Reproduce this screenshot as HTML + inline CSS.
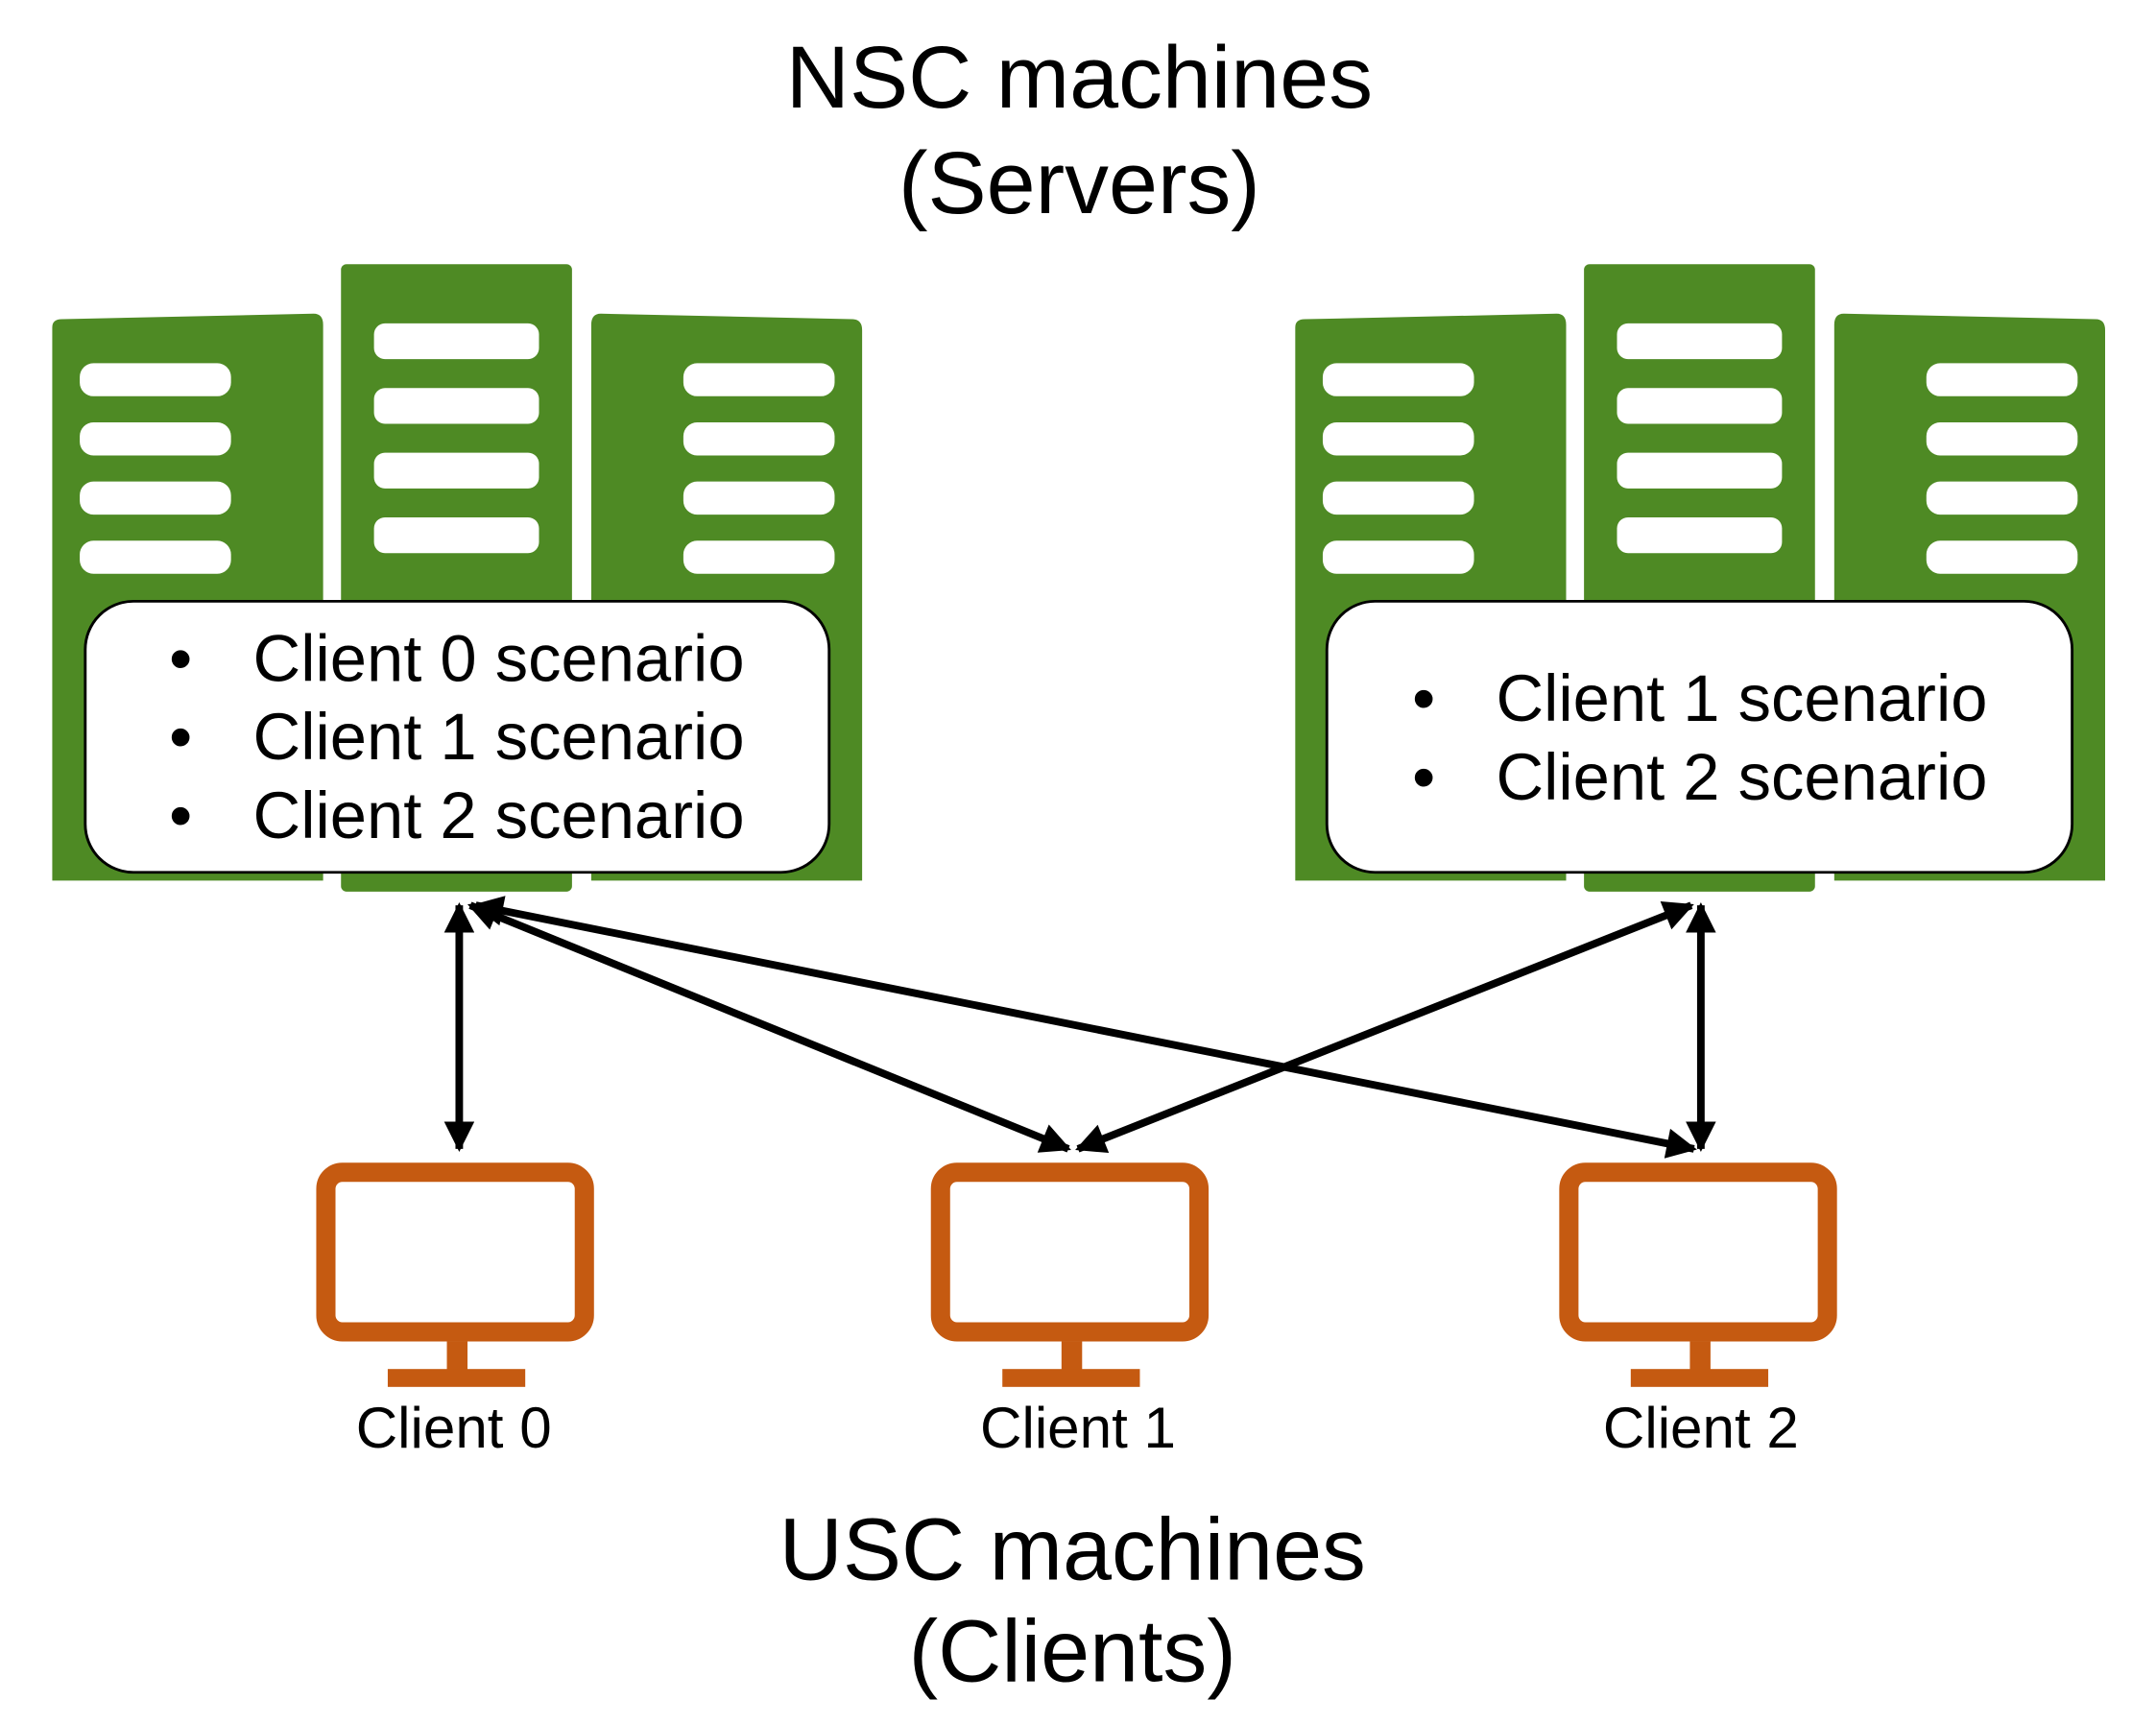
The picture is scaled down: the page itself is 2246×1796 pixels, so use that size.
<!DOCTYPE html>
<html><head><meta charset="utf-8"><style>
html,body{margin:0;padding:0;background:#fff;}
svg{display:block;}
text{font-family:"Liberation Sans",Arial,sans-serif;fill:#000;}
</style></head><body>
<svg width="2246" height="1796" viewBox="0 0 1568 1253" preserveAspectRatio="none" xmlns="http://www.w3.org/2000/svg">
<defs>
<marker id="ah" viewBox="0 0 10 10" refX="9" refY="5" markerWidth="4.5" markerHeight="4" orient="auto-start-reverse">
<path d="M0,0 L10,5 L0,10 z" fill="#000"/>
</marker>
<g id="srv">
  <path d="M38,238 Q38,232 45,232 L228,228 Q235,228 235,236 L235,640 L38,640 Z" fill="#4e8a24"/>
  <rect x="248" y="192" width="168" height="456" rx="4" fill="#4e8a24"/>
  <path d="M430,236 Q430,228 437,228 L620,232 Q627,232 627,240 L627,640 L430,640 Z" fill="#4e8a24"/>
  <g fill="#fff">
    <rect x="58" y="264" width="110" height="24" rx="10"/>
    <rect x="58" y="307" width="110" height="24" rx="10"/>
    <rect x="58" y="350" width="110" height="24" rx="10"/>
    <rect x="58" y="393" width="110" height="24" rx="10"/>
    <rect x="272" y="235" width="120" height="26" rx="8"/>
    <rect x="272" y="282" width="120" height="26" rx="8"/>
    <rect x="272" y="329" width="120" height="26" rx="8"/>
    <rect x="272" y="376" width="120" height="26" rx="8"/>
    <rect x="497" y="264" width="110" height="24" rx="10"/>
    <rect x="497" y="307" width="110" height="24" rx="10"/>
    <rect x="497" y="350" width="110" height="24" rx="10"/>
    <rect x="497" y="393" width="110" height="24" rx="10"/>
  </g>
</g>
<g id="mon">
  <rect x="237" y="852" width="188" height="116" rx="12" fill="none" stroke="#c55a11" stroke-width="14"/>
  <rect x="325" y="975" width="15" height="22" fill="#c55a11"/>
  <rect x="282" y="995" width="100" height="13" fill="#c55a11"/>
</g>
</defs>

<text x="785" y="78" font-size="64" text-anchor="middle">NSC machines</text>
<text x="785" y="155" font-size="64" text-anchor="middle">(Servers)</text>

<use href="#srv"/>
<use href="#srv" transform="translate(904,0)"/>

<rect x="62" y="437" width="541" height="197" rx="35" fill="#fff" stroke="#000" stroke-width="2"/>
<g font-size="48">
<text x="123" y="495">•</text><text x="184" y="495">Client 0 scenario</text>
<text x="123" y="552">•</text><text x="184" y="552">Client 1 scenario</text>
<text x="123" y="609">•</text><text x="184" y="609">Client 2 scenario</text>
</g>
<rect x="965" y="437" width="542" height="197" rx="35" fill="#fff" stroke="#000" stroke-width="2"/>
<g font-size="48">
<text x="1027" y="524">•</text><text x="1088" y="524">Client 1 scenario</text>
<text x="1027" y="581">•</text><text x="1088" y="581">Client 2 scenario</text>
</g>

<g stroke="#000" stroke-width="5.5" fill="none" marker-start="url(#ah)" marker-end="url(#ah)">
  <line x1="334" y1="658" x2="334" y2="835"/>
  <line x1="342" y1="658" x2="777" y2="835"/>
  <line x1="346" y1="658" x2="1232" y2="835"/>
  <line x1="1230" y1="658" x2="784" y2="835"/>
  <line x1="1237" y1="658" x2="1237" y2="835"/>
</g>

<use href="#mon"/>
<use href="#mon" transform="translate(447,0)"/>
<use href="#mon" transform="translate(904,0)"/>

<g font-size="42" text-anchor="middle">
<text x="330" y="1052">Client 0</text>
<text x="784" y="1052">Client 1</text>
<text x="1237" y="1052">Client 2</text>
</g>

<text x="780" y="1148" font-size="64" text-anchor="middle">USC machines</text>
<text x="780" y="1222" font-size="64" text-anchor="middle">(Clients)</text>
</svg>
</body></html>
